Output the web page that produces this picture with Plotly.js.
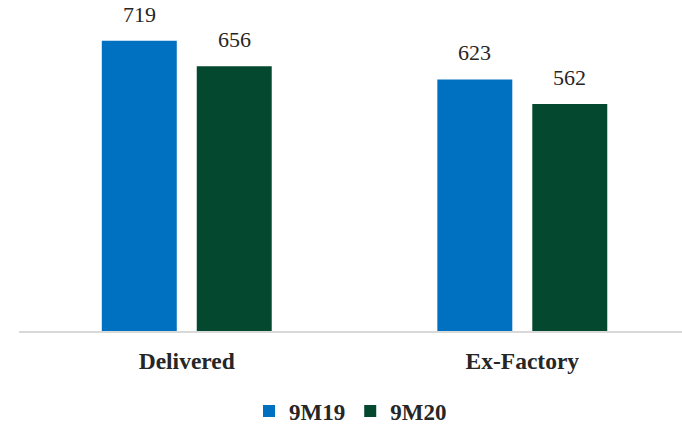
<!DOCTYPE html>
<html>
<head>
<meta charset="utf-8">
<script src="https://cdn.plot.ly/plotly-3.0.1.min.js"></script>
<style>html,body{margin:0;padding:0;background:#fff;}#chart{width:682px;height:425px;}</style>
</head>
<body>
<div id="chart"></div>
<script>
const categories = ["Delivered", "Ex-Factory"];
const seriesNames = ["9M19", "9M20"];
const values9M19 = [719, 623];
const values9M20 = [656, 562];
const colors = ["#0070C0", "#03482F"];

const FONT = "'Liberation Serif', 'Times New Roman', Times, serif";
const allValues = [values9M19, values9M20];
const traces = allValues.map((vals, i) => ({
  type: "bar",
  name: seriesNames[i],
  x: categories,
  y: vals,
  marker: {color: colors[i]},
  hoverinfo: "none"
}));

const shifts = [-47.5, 47.5];
const annotations = [];
allValues.forEach((vals, i) => {
  vals.forEach((v, j) => {
    annotations.push({
      x: categories[j], y: v, xref: "x", yref: "y",
      text: String(v), showarrow: false,
      xshift: shifts[i], yanchor: "bottom", yshift: 12,
      font: {family: FONT, size: 22, color: "#262626"}
    });
  });
});

const layout = {
  width: 682, height: 425,
  margin: {l: 19, r: 0, t: 8, b: 94, autoexpand: false},
  paper_bgcolor: "#fff", plot_bgcolor: "#fff",
  barmode: "group", bargap: 0.434, bargroupgap: 0.2105,
  showlegend: true,
  legend: {orientation: "h", x: 0.5, xanchor: "center", yref: "container", y: 0.033, yanchor: "middle",
           font: {family: FONT, size: 23, color: "#262626", weight: "bold"}, itemwidth: 30},
  xaxis: {range: [-0.5, 1.476], showline: true, linecolor: "#D9D9D9", linewidth: 2,
          ticks: "", ticklabelstandoff: 8, showgrid: false, zeroline: false,
          tickfont: {family: FONT, size: 23.5, color: "#262626", weight: "bold"}, fixedrange: true},
  yaxis: {range: [0, 800], visible: false, showgrid: false, zeroline: false, fixedrange: true},
  annotations: annotations,
  font: {family: FONT}
};

Plotly.newPlot("chart", traces, layout, {displayModeBar: false, staticPlot: true});
</script>
</body>
</html>
